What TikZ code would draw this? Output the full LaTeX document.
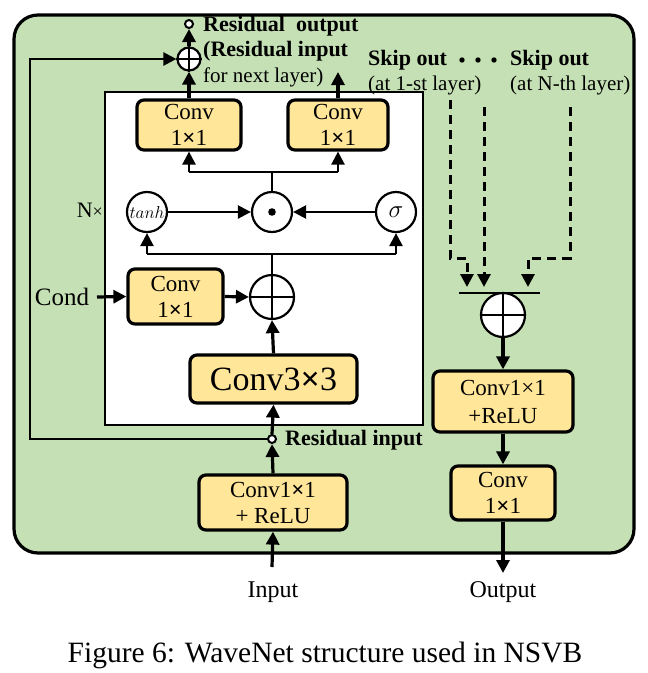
\documentclass[tikz,border=0pt]{standalone}
\usepackage{fontspec}
\setmainfont{Liberation Serif}
\usetikzlibrary{arrows.meta}
\definecolor{bggreen}{HTML}{C5E0B4}
\definecolor{boxyellow}{HTML}{FFE699}
\begin{document}
\begin{tikzpicture}[x=1pt,y=-1pt,
  convbox/.style={draw, line width=3.2pt, rounded corners=7pt, fill=boxyellow, align=center, inner sep=0pt, font=\fontsize{23}{26}\selectfont},
  opcirc/.style={circle, draw, line width=2.2pt, fill=white, inner sep=0pt},
  smallcirc/.style={circle, draw, line width=2pt, fill=white, inner sep=0pt, minimum size=8pt},
  arr/.style={line width=3.2pt, -{Triangle[length=13pt,width=13pt]}},
  tarr/.style={line width=2.4pt, -{Triangle[length=13pt,width=13pt]}},
  thinl/.style={line width=2.4pt},
  dsh/.style={line width=3pt, dash pattern=on 9pt off 6pt},
  lbl/.style={font=\fontsize{21}{24}\selectfont, inner sep=0pt},
  blbl/.style={font=\fontsize{22}{24}\selectfont\bfseries, inner sep=0pt}
]
\useasboundingbox (0,0) rectangle (648,673);
% outer green panel
\draw[line width=3.2pt, fill=bggreen, rounded corners=24pt] (14,15) rectangle (634,553);
% inner white block
\draw[line width=2.4pt, fill=white] (105,92) rectangle (423,425);

% boxes
\node[convbox, minimum width=104pt, minimum height=50pt] (convA) at (189,125) {Conv\\1\textbf{×}1};
\node[convbox, minimum width=100pt, minimum height=50pt] (convB) at (338,125) {Conv\\1\textbf{×}1};
\node[convbox, minimum width=95pt, minimum height=55pt] (convC) at (175.5,296.5) {Conv\\1\textbf{×}1};
\node[convbox, minimum width=167pt, minimum height=48pt, font=\fontsize{34}{36}\selectfont] (conv3) at (273.5,379) {Conv3\textbf{×}3};
\node[convbox, minimum width=148pt, minimum height=55pt] (convIn) at (273,502.5) {Conv1\textbf{×}1\\+ ReLU};
\node[convbox, minimum width=140pt, minimum height=61pt, font=\fontsize{23}{28}\selectfont] (convR1) at (503,401.5) {Conv1×1\\+ReLU};
\node[convbox, minimum width=104pt, minimum height=54pt] (convR2) at (503,493) {Conv\\1\textbf{×}1};

% circles
\node[opcirc, minimum size=40pt] (tanh) at (147,212) {\fontsize{18.5}{18}\selectfont$tanh$};
\node[opcirc, minimum size=40pt] (dot) at (272,212) {};
\fill (dot.center) circle (3.8pt);
\node[opcirc, minimum size=40pt] (sig) at (396,212) {\fontsize{26}{26}\selectfont$\sigma$};
\node[opcirc, minimum size=44pt] (sum) at (272,297) {};
\draw[thinl] (sum.north) -- (sum.south) (sum.west) -- (sum.east);
\node[opcirc, minimum size=23pt] (sumT) at (189,59) {};
\draw[thinl] (sumT.north) -- (sumT.south) (sumT.west) -- (sumT.east);
\node[smallcirc] (outC) at (189,24) {};
\node[smallcirc] (resIn) at (272,439) {};
\node[opcirc, minimum size=44pt] (sumR) at (503,315) {};
\draw[thinl] (sumR.north) -- (sumR.south) (sumR.west) -- (sumR.east);

% texts
\node[blbl, anchor=west] (t1) at (203,26) {Residual\ \ output};
\node[blbl, anchor=west] (t2) at (203,51) {(Residual input};
\node[lbl, anchor=west] (t3) at (203,77) {for next layer)};
\node[blbl, anchor=west] (s1) at (368,60) {Skip out};
\node[lbl, anchor=west] (s2) at (368,85) {(at 1-st layer)};
\node[blbl, anchor=west] (s3) at (510,60) {Skip out};
\node[lbl, anchor=west] (s4) at (510,85) {(at N-th layer)};
\foreach \xx in {462,478,494} \fill (\xx,60) circle (2.7pt);
\node[font=\fontsize{22}{24}\selectfont, inner sep=0pt, anchor=east] (nx) at (103,210) {N{\fontsize{18}{18}\selectfont×}};
\node[font=\fontsize{25}{28}\selectfont, inner sep=0pt] (cond) at (62,297) {Cond};
\node[font=\fontsize{22}{24}\selectfont\bfseries, inner sep=0pt, anchor=west] (rin) at (285,440) {Residual input};
\node[font=\fontsize{24}{28}\selectfont, inner sep=0pt] (inp) at (273,592) {Input};
\node[font=\fontsize{24}{28}\selectfont, inner sep=0pt] (outp) at (503,592) {Output};
\node[font=\fontsize{29.5}{32}\selectfont, inner sep=0pt] (cap) at (325,655) {Figure 6: WaveNet structure used in NSVB};

% coordinates
\coordinate (inStart) at (272,567);
\coordinate (loopBL) at (30,439);
\coordinate (loopTL) at (30,59);
\coordinate (gSplit) at (272,254);
\coordinate (gL) at (147,254);
\coordinate (gR) at (396,254);
\coordinate (cSplit) at (272,172);
\coordinate (cL) at (189,172);
\coordinate (cR) at (338,172);
\coordinate (skipB) at (338,72);
\coordinate (condStart) at (97,297);
\coordinate (outEnd) at (503,573);

% main column
\draw[arr] (inStart) -- (convIn.south);
\draw[arr] (convIn.north) -- (resIn.south);
\draw[arr] (resIn.north) -- (conv3.south);
\draw[arr] (conv3.north) -- (sum.south);
\draw[arr] (condStart) -- (convC.west);
\draw[arr] (convC.east) -- (sum.west);
% residual loop
\draw[tarr] (resIn.west) -- (loopBL) -- (loopTL) -- (sumT.west);
% gate split
\draw[thinl] (sum.north) -- (gSplit);
\draw[tarr] (gL) -- (tanh.south);
\draw[tarr] (gR) -- (sig.south);
\draw[thinl] (gL) -- (gR);
\draw[tarr] (tanh.east) -- (dot.west);
\draw[tarr] (sig.west) -- (dot.east);
% conv split
\draw[thinl] (dot.north) -- (cSplit);
\draw[thinl] (cL) -- (cR);
\draw[tarr] (cL) -- (convA.south);
\draw[tarr] (cR) -- (convB.south);
\draw[arr] (convA.north) -- (sumT.south);
\draw[arr] (sumT.north) -- (outC.south);
\draw[arr] (convB.north) -- (skipB);

% skip connections
\coordinate (d1a) at (450,100);
\coordinate (d1b) at (450,258);
\coordinate (d1c) at (467,258);
\coordinate (d1d) at (467,287);
\coordinate (d2a) at (484,107);
\coordinate (d2d) at (484,287);
\coordinate (d3a) at (570,107);
\coordinate (d3b) at (570,258);
\coordinate (d3c) at (528,258);
\coordinate (d3d) at (528,287);
\draw[dsh, -{Triangle[length=13pt,width=13pt]}] (d1a) -- (d1b) -- (d1c) -- (d1d);
\draw[dsh, -{Triangle[length=13pt,width=13pt]}] (d2a) -- (d2d);
\draw[dsh, -{Triangle[length=13pt,width=13pt]}] (d3a) -- (d3b) -- (d3c) -- (d3d);
\coordinate (barL) at (459,293);
\coordinate (barR) at (540,293);
\draw[line width=1.6pt] (barL) -- (barR);

\draw[arr] (sumR.south) -- (convR1.north);
\draw[arr] (convR1.south) -- (convR2.north);
\draw[arr] (convR2.south) -- (outEnd);
\end{tikzpicture}
\end{document}
